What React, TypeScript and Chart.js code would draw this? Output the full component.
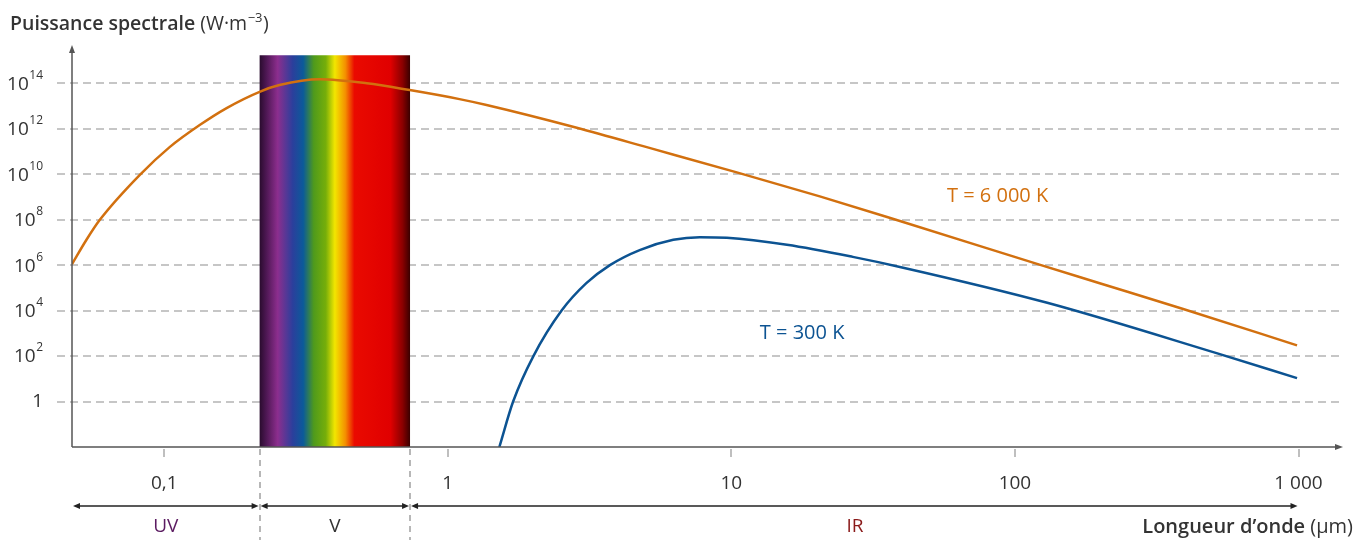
import { useEffect, useRef } from 'react';
import { Chart, registerables } from 'chart.js';

Chart.register(...registerables);

// ---- data ----
const WAVELENGTH_6000K = [0.0473, 0.0532, 0.0593, 0.0819, 0.1045, 0.1334, 0.166, 0.217, 0.255, 0.354, 0.518, 0.734, 1.1, 1.37, 2.85, 5.29, 10.45, 20.5, 39.3, 122, 199, 392, 988];
const POWER_6000K = [1.1e6, 1.3e7, 9.8e7, 9.1e9, 1.55e11, 1.45e12, 8.1e12, 4.2e13, 8.3e13, 1.5e14, 1.0e14, 5.0e13, 2.0e13, 1.1e13, 1.1e12, 1.29e11, 1.2e10, 1.05e9, 8.7e7, 1.05e6, 1.6e5, 1.18e4, 295];

const WAVELENGTH_300K = [1.52, 1.7, 2.0, 2.52, 3.08, 3.73, 4.75, 6.24, 7.74, 9.64, 15.7, 26.8, 39.3, 130, 514, 988];
const POWER_300K = [0.01, 1, 95, 1.0e4, 1.6e5, 1.0e6, 4.6e6, 1.3e7, 1.7e7, 1.6e7, 7.8e6, 2.3e6, 8.3e5, 2.2e4, 134, 10.7];

const X_TICKS = [0.1, 1, 10, 100, 1000];
const X_TICK_LABELS = ['0,1', '1', '10', '100', '1 000'];
const Y_TICK_EXPONENTS = [0, 2, 4, 6, 8, 10, 12, 14];

const X_MIN = 0.0473;
const X_MAX = 1435;
const Y_MIN = 0.01;
const Y_MAX = 4.8e15;

const VISIBLE_BAND = [0.217, 0.736];
const BAND_TOP = 1.7e15;

const DOMAIN_LABELS = ['UV', 'V', 'IR'];
const DOMAIN_BOUNDS = [X_MIN, 0.217, 0.736, 1000];
const DOMAIN_COLORS = ['#5b1b61', '#333333', '#8a1a1a'];

const SERIES_NAMES = ['T = 6 000 K', 'T = 300 K'];
const SERIES_COLORS = ['#d2700f', '#0c5392'];
const SERIES_LABEL_X = [57.6, 12.6];
const SERIES_LABEL_Y = [1.1e9, 1050];

const FONT = "'Open Sans', 'Noto Sans', sans-serif";
const TEXT = '#333333';

function arrowHead(ctx: CanvasRenderingContext2D, x: number, y: number, dir: 'left' | 'right' | 'up', len = 7, half = 3.5) {
  ctx.beginPath();
  if (dir === 'right') {
    ctx.moveTo(x, y);
    ctx.lineTo(x - len, y - half);
    ctx.lineTo(x - len, y + half);
  } else if (dir === 'left') {
    ctx.moveTo(x, y);
    ctx.lineTo(x + len, y - half);
    ctx.lineTo(x + len, y + half);
  } else {
    ctx.moveTo(x, y);
    ctx.lineTo(x - half, y + len);
    ctx.lineTo(x + half, y + len);
  }
  ctx.closePath();
  ctx.fill();
}

const decorPlugin = {
  id: 'decor',
  beforeDatasetsDraw(chart: any) {
    const { ctx, chartArea: a, scales } = chart;
    const xs = scales.x;
    const ys = scales.y;
    ctx.save();
    // dashed horizontal grid
    ctx.strokeStyle = '#b4b4b4';
    ctx.lineWidth = 1.5;
    ctx.setLineDash([8, 5]);
    for (const e of Y_TICK_EXPONENTS) {
      const py = Math.round(ys.getPixelForValue(Math.pow(10, e)));
      ctx.beginPath();
      ctx.moveTo(a.left - 15, py);
      ctx.lineTo(a.right - 3, py);
      ctx.stroke();
    }
    ctx.setLineDash([]);
    // visible spectrum band
    const x0 = xs.getPixelForValue(VISIBLE_BAND[0]);
    const x1 = xs.getPixelForValue(VISIBLE_BAND[1]);
    const yt = ys.getPixelForValue(BAND_TOP);
    const g = ctx.createLinearGradient(x0, 0, x1, 0);
    g.addColorStop(0.0, '#2a0c2e');
    g.addColorStop(0.04, '#4a1650');
    g.addColorStop(0.12, '#8c2e8e');
    g.addColorStop(0.22, '#2b3f9c');
    g.addColorStop(0.29, '#0b5a9a');
    g.addColorStop(0.36, '#4f9a1c');
    g.addColorStop(0.44, '#76ae0a');
    g.addColorStop(0.5, '#f2e600');
    g.addColorStop(0.57, '#f49000');
    g.addColorStop(0.63, '#ea0a00');
    g.addColorStop(0.87, '#e00000');
    g.addColorStop(0.95, '#8a0000');
    g.addColorStop(1.0, '#3a0000');
    ctx.fillStyle = g;
    ctx.fillRect(x0, yt, x1 - x0, a.bottom - yt);
    ctx.restore();
  },
  afterDatasetsDraw(chart: any) {
    const { ctx, chartArea: a, scales } = chart;
    const xs = scales.x;
    const ys = scales.y;
    const H = chart.height;
    ctx.save();

    // axes
    ctx.strokeStyle = '#555555';
    ctx.fillStyle = '#555555';
    ctx.lineWidth = 1.5;
    ctx.beginPath();
    ctx.moveTo(a.left, a.bottom);
    ctx.lineTo(a.left, a.top + 4);
    ctx.moveTo(a.left, a.bottom);
    ctx.lineTo(a.right - 4, a.bottom);
    ctx.stroke();
    arrowHead(ctx, a.left, a.top, 'up', 8, 3);
    arrowHead(ctx, a.right, a.bottom, 'right', 8, 3);

    // x tick marks
    ctx.strokeStyle = '#aaaaaa';
    ctx.lineWidth = 1.5;
    for (const v of X_TICKS) {
      const px = Math.round(xs.getPixelForValue(v));
      ctx.beginPath();
      ctx.moveTo(px, a.bottom + 2);
      ctx.lineTo(px, a.bottom + 10);
      ctx.stroke();
    }

    // dashed separators under the band edges
    ctx.strokeStyle = '#a0a0a0';
    ctx.setLineDash([6, 5]);
    for (const v of VISIBLE_BAND) {
      const px = Math.round(xs.getPixelForValue(v));
      ctx.beginPath();
      ctx.moveTo(px, a.bottom + 2);
      ctx.lineTo(px, H);
      ctx.stroke();
    }
    ctx.setLineDash([]);

    // x tick labels
    ctx.fillStyle = TEXT;
    ctx.font = `19px ${FONT}`;
    ctx.textAlign = 'center';
    ctx.textBaseline = 'middle';
    X_TICKS.forEach((v, i) => {
      ctx.fillText(X_TICK_LABELS[i], xs.getPixelForValue(v), a.bottom + 37);
    });

    // y tick labels
    const rightEdge = a.left - 29;
    Y_TICK_EXPONENTS.forEach((e) => {
      const py = ys.getPixelForValue(Math.pow(10, e));
      ctx.textBaseline = 'middle';
      if (e === 0) {
        ctx.font = `19px ${FONT}`;
        ctx.textAlign = 'right';
        ctx.fillText('1', rightEdge, py);
        return;
      }
      const sup = String(e);
      ctx.font = `12px ${FONT}`;
      const sw = ctx.measureText(sup).width;
      ctx.textAlign = 'right';
      ctx.fillText(sup, rightEdge, py - 8);
      ctx.font = `19px ${FONT}`;
      ctx.fillText('10', rightEdge - sw - 0.5, py + 1);
    });

    // domain arrows
    const rowY = a.bottom + 59;
    ctx.strokeStyle = '#222222';
    ctx.fillStyle = '#222222';
    ctx.lineWidth = 1.5;
    for (let i = 0; i < DOMAIN_LABELS.length; i++) {
      const p0 = xs.getPixelForValue(DOMAIN_BOUNDS[i]) + 1;
      const p1 = xs.getPixelForValue(DOMAIN_BOUNDS[i + 1]) - 1;
      ctx.beginPath();
      ctx.moveTo(p0 + 4, rowY);
      ctx.lineTo(p1 - 4, rowY);
      ctx.stroke();
      arrowHead(ctx, p0, rowY, 'left', 7, 3);
      arrowHead(ctx, p1, rowY, 'right', 7, 3);
    }
    ctx.font = `19px ${FONT}`;
    ctx.textAlign = 'center';
    ctx.textBaseline = 'middle';
    const labelCenters = [
      (xs.getPixelForValue(DOMAIN_BOUNDS[0]) + xs.getPixelForValue(DOMAIN_BOUNDS[1])) / 2,
      (xs.getPixelForValue(DOMAIN_BOUNDS[1]) + xs.getPixelForValue(DOMAIN_BOUNDS[2])) / 2,
      xs.getPixelForValue(DOMAIN_BOUNDS[2]) + 445,
    ];
    DOMAIN_LABELS.forEach((t, i) => {
      ctx.fillStyle = DOMAIN_COLORS[i];
      ctx.fillText(t, labelCenters[i], a.bottom + 80);
    });

    // x axis title (right aligned)
    ctx.fillStyle = TEXT;
    ctx.textAlign = 'left';
    ctx.textBaseline = 'middle';
    const xTitleBold = 'Longueur d’onde';
    const xTitleUnit = ' (µm)';
    ctx.font = `600 20px ${FONT}`;
    const wb = ctx.measureText(xTitleBold).width;
    ctx.font = `20px ${FONT}`;
    const wu = ctx.measureText(xTitleUnit).width;
    let tx = chart.width - 10 - wb - wu;
    ctx.font = `600 20px ${FONT}`;
    ctx.fillText(xTitleBold, tx, a.bottom + 80);
    ctx.font = `20px ${FONT}`;
    ctx.fillText(xTitleUnit, tx + wb, a.bottom + 80);

    // y axis title
    ctx.textBaseline = 'alphabetic';
    const ty = 30;
    tx = 10;
    ctx.font = `600 19.5px ${FONT}`;
    ctx.fillText('Puissance spectrale', tx, ty);
    tx += ctx.measureText('Puissance spectrale ').width;
    ctx.font = `19.5px ${FONT}`;
    ctx.fillText('(W·m', tx, ty);
    tx += ctx.measureText('(W·m').width;
    ctx.font = `13px ${FONT}`;
    ctx.fillText('−3', tx + 0.5, ty - 8);
    tx += ctx.measureText('−3').width + 1;
    ctx.font = `19.5px ${FONT}`;
    ctx.fillText(')', tx, ty);

    // series labels
    ctx.font = `20px ${FONT}`;
    ctx.textAlign = 'left';
    ctx.textBaseline = 'middle';
    SERIES_NAMES.forEach((n, i) => {
      ctx.fillStyle = SERIES_COLORS[i];
      ctx.fillText(n, xs.getPixelForValue(SERIES_LABEL_X[i]), ys.getPixelForValue(SERIES_LABEL_Y[i]));
    });

    ctx.restore();
  },
};

export default function App() {
  const canvasRef = useRef<HTMLCanvasElement | null>(null);

  useEffect(() => {
    const canvas = canvasRef.current;
    if (!canvas) return;
    const chart = new Chart(canvas, {
      type: 'line',
      data: {
        datasets: [
          {
            label: SERIES_NAMES[0],
            data: WAVELENGTH_6000K.map((x, i) => ({ x, y: POWER_6000K[i] })),
            borderColor: SERIES_COLORS[0],
            borderWidth: 2.5,
            pointRadius: 0,
            cubicInterpolationMode: 'monotone',
            fill: false,
          },
          {
            label: SERIES_NAMES[1],
            data: WAVELENGTH_300K.map((x, i) => ({ x, y: POWER_300K[i] })),
            borderColor: SERIES_COLORS[1],
            borderWidth: 2.5,
            pointRadius: 0,
            cubicInterpolationMode: 'monotone',
            fill: false,
          },
        ],
      },
      options: {
        responsive: false,
        animation: false,
        layout: { padding: { left: 72, right: 20, top: 45, bottom: 93 } },
        plugins: { legend: { display: false }, tooltip: { enabled: false } },
        scales: {
          x: { type: 'logarithmic', min: X_MIN, max: X_MAX, display: false },
          y: { type: 'logarithmic', min: Y_MIN, max: Y_MAX, display: false },
        },
      },
      plugins: [decorPlugin],
    });
    return () => chart.destroy();
  }, []);

  return (
    <div style={{ position: 'fixed', left: 0, top: 0, width: 1363, height: 540, background: '#ffffff' }}>
      <canvas ref={canvasRef} width={1363} height={540} />
    </div>
  );
}
